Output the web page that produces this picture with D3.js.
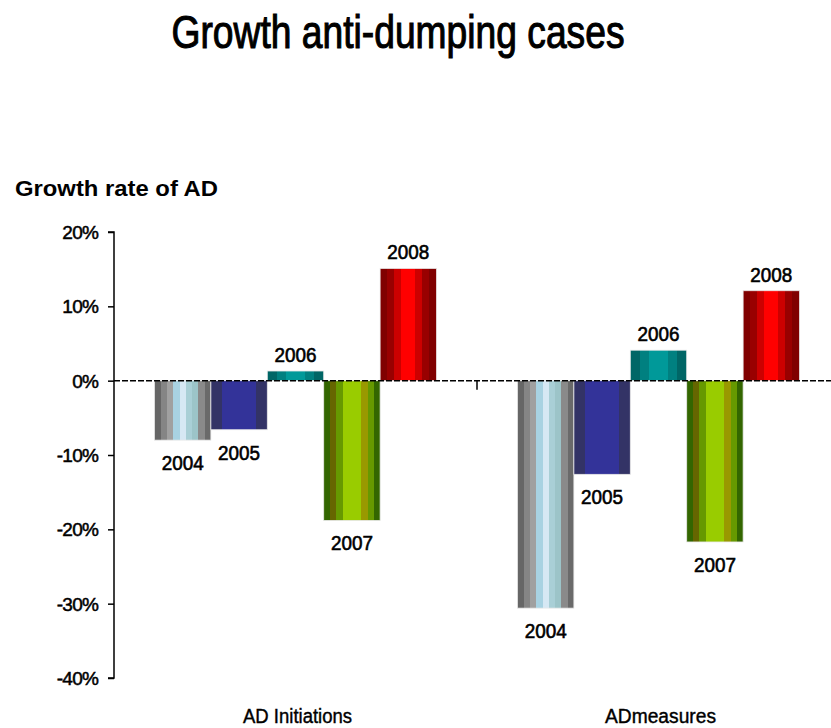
<!DOCTYPE html>
<html>
<head>
<meta charset="utf-8">
<script src="https://cdn.jsdelivr.net/npm/d3@7/dist/d3.min.js"></script>
<style>
  html, body { margin: 0; padding: 0; background: #fff; }
  svg { display: block; }
  text { font-family: "Liberation Sans", Arial, sans-serif; fill: #000; }
</style>
</head>
<body>
<svg id="chart" width="831" height="728"></svg>
<script>
// ---- data ----
const categories = ["AD Initiations", "ADmeasures"];
const years = ["2004", "2005", "2006", "2007", "2008"];
const adInitiations = [-0.080, -0.066, 0.013, -0.188, 0.151];
const adMeasures = [-0.306, -0.126, 0.041, -0.217, 0.121];
const yTicks = [0.2, 0.1, 0, -0.1, -0.2, -0.3, -0.4];
const titleText = "Growth anti-dumping cases";
const yAxisTitle = "Growth rate of AD";

const seriesByCategory = [adInitiations, adMeasures];

// stripe palettes (horizontal gradient, hard steps) per year
const stripes = {
  "2004": ["#666666","#858585","#a0a0a0","#a8d2e2","#d6e8f4","#a9cfd6","#9cc4c8","#8a8a8a","#6a6a6a"],
  "2005": ["#333366","#333399","#333399","#333399","#333366"],
  "2006": ["#006666","#008080","#009999","#009999","#008080","#006666"],
  "2007": ["#336600","#666600","#669900","#99cc00","#99cc00","#99cc00","#999900","#669900","#336600"],
  "2008": ["#800000","#990000","#cc0000","#ff0000","#ff0000","#cc0000","#990000","#800000"]
};

const svg = d3.select("#chart");

const y = d3.scaleLinear().domain([-0.4, 0.2]).range([678, 232]);
const x0 = d3.scaleBand().domain(categories).range([114, 840])
  .paddingInner(0.223).paddingOuter(0.1115);
const x1 = d3.scaleBand().domain(years).range([0, x0.bandwidth()]).padding(0);

// gradients
const defs = svg.append("defs");
years.forEach(yr => {
  const cols = stripes[yr];
  const g = defs.append("linearGradient").attr("id", "g" + yr)
    .attr("x1", "0%").attr("x2", "100%").attr("y1", "0%").attr("y2", "0%");
  const n = cols.length;
  cols.forEach((c, i) => {
    g.append("stop").attr("offset", (i / n * 100) + "%").attr("stop-color", c);
    g.append("stop").attr("offset", ((i + 1) / n * 100) + "%").attr("stop-color", c);
  });
});

// title
svg.append("text").attr("x", 398).attr("y", 48)
  .attr("text-anchor", "middle").attr("font-size", 46)
  .attr("stroke", "#000").attr("stroke-width", 1.1)
  .attr("textLength", 453).attr("lengthAdjust", "spacingAndGlyphs")
  .text(titleText);

svg.append("text").attr("x", 15).attr("y", 196)
  .attr("font-size", 22).attr("font-weight", "bold")
  .attr("textLength", 203).attr("lengthAdjust", "spacingAndGlyphs")
  .text(yAxisTitle);

// y axis
const pct = d3.format(".0%");
const yAxis = d3.axisLeft(y).tickValues(yTicks).tickSize(6).tickPadding(10)
  .tickFormat(d => pct(d).replace("\u2212", "-"));
const gy = svg.append("g").attr("transform", "translate(114,0)").call(yAxis);
gy.select(".domain").attr("stroke", "#000").attr("stroke-width", 1.5)
  .attr("d", `M-6,${y(0.2)}H0V${y(-0.4)}H-6`);
gy.selectAll(".tick line").attr("stroke", "#000").attr("stroke-width", 1.5);
gy.selectAll(".tick text").attr("font-size", 19).attr("fill", "#000")
  .attr("font-family", "'Liberation Sans', Arial, sans-serif")
  .attr("stroke", "#000").attr("stroke-width", 0.5)
  .attr("letter-spacing", "-0.8px")
  .attr("dy", "0.35em");

// bars
const groups = svg.selectAll("g.cat").data(categories).enter().append("g")
  .attr("class", "cat")
  .attr("transform", d => `translate(${x0(d)},0)`);

groups.each(function(cat, ci) {
  const vals = seriesByCategory[ci];
  const g = d3.select(this);
  const data = years.map((yr, i) => ({ yr, v: vals[i] }));
  g.selectAll("rect").data(data).enter().append("rect")
    .attr("x", d => x1(d.yr))
    .attr("width", x1.bandwidth())
    .attr("y", d => y(Math.max(0, d.v)))
    .attr("height", d => Math.abs(y(d.v) - y(0)))
    .attr("fill", d => `url(#g${d.yr})`)
    .attr("stroke", "#e8e8e8").attr("stroke-width", 0.8);
  g.selectAll("text.lbl").data(data).enter().append("text")
    .attr("class", "lbl")
    .attr("x", d => x1(d.yr) + x1.bandwidth() / 2)
    .attr("y", d => d.v >= 0 ? y(d.v) - 9 : y(d.v) + 30)
    .attr("text-anchor", "middle")
    .attr("font-size", 20)
    .attr("stroke", "#000").attr("stroke-width", 0.6)
    .attr("textLength", 42).attr("lengthAdjust", "spacingAndGlyphs")
    .text(d => d.yr);
});

// zero line (dashed) drawn on top
svg.append("line").attr("x1", 114).attr("x2", 831)
  .attr("y1", y(0)).attr("y2", y(0))
  .attr("stroke", "#000").attr("stroke-width", 1.5)
  .attr("stroke-dasharray", "6,2");

// category divider tick
svg.append("line").attr("x1", 114 + x0.step()).attr("x2", 114 + x0.step())
  .attr("y1", y(0)).attr("y2", y(0) + 9)
  .attr("stroke", "#000").attr("stroke-width", 1.5);

// category labels
svg.selectAll("text.cat").data(categories).enter().append("text")
  .attr("class", "cat")
  .attr("x", d => x0(d) + x0.bandwidth() / 2 + 2)
  .attr("y", 723)
  .attr("text-anchor", "middle")
  .attr("font-size", 20)
  .attr("stroke", "#000").attr("stroke-width", 0.4)
  .attr("textLength", (d, i) => i === 0 ? 109 : 111)
  .attr("lengthAdjust", "spacingAndGlyphs")
  .text(d => d);
</script>
</body>
</html>
